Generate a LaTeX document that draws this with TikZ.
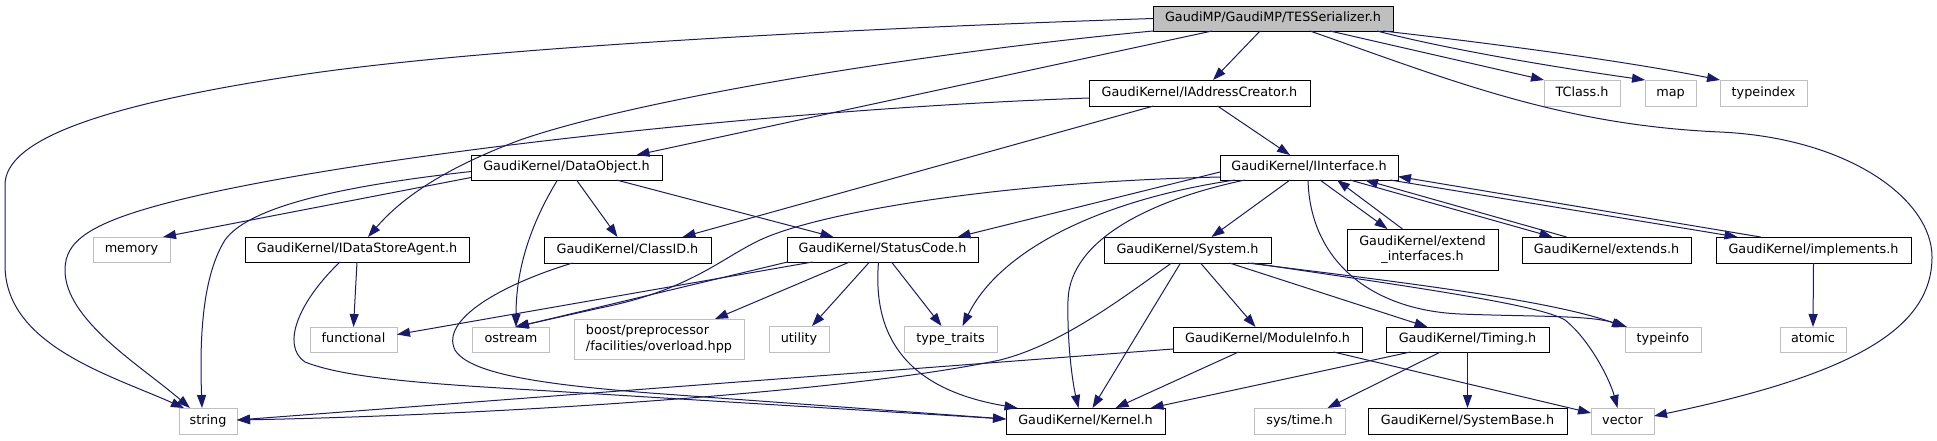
\documentclass[tikz,border=0pt]{standalone}
\usepackage{fontspec}
\setmainfont{DejaVu Sans}
\usetikzlibrary{arrows.meta}
\definecolor{edgec}{HTML}{191970}
\definecolor{greyb}{HTML}{BFBFBF}
\begin{document}
\begin{tikzpicture}[x=1pt,y=-1pt,
  nd/.style={draw=black, line width=1pt, inner sep=0pt, outer sep=0pt, fill=white,
    font=\fontsize{12.8}{15.5}\selectfont, text height=9.3pt, text depth=2.6pt},
  ext/.style={nd, draw=greyb},
  root/.style={nd, fill=greyb},
  twoline/.style={draw=black, line width=1pt, inner sep=0pt, outer sep=0pt, fill=white,
    font=\fontsize{12.8}{15.5}\selectfont},
  lnk/.style={draw=edgec, line width=1pt, -{Triangle[length=13pt,width=9pt]}}]
\fill[white] (0,0) rectangle (1937,440);
\useasboundingbox (0,0) rectangle (1937,440);
% nodes
\node[root, minimum width=240pt, minimum height=25pt] (tes) at (1273,18.5) {GaudiMP/GaudiMP/TESSerializer.h};
\node[nd, minimum width=221pt, minimum height=26pt] (iac) at (1199.5,93) {GaudiKernel/IAddressCreator.h};
\node[ext, minimum width=76pt, minimum height=26pt] (tclass) at (1582,93) {TClass.h};
\node[ext, minimum width=51pt, minimum height=26pt] (map) at (1670.5,93) {map};
\node[ext, minimum width=87pt, minimum height=26pt] (typeindex) at (1763.5,93) {typeindex};
\node[nd, minimum width=191pt, minimum height=25pt] (dataobj) at (566.5,167.5) {GaudiKernel/DataObject.h};
\node[nd, minimum width=178pt, minimum height=25pt] (iinterface) at (1309,167.5) {GaudiKernel/IInterface.h};
\node[ext, minimum width=77pt, minimum height=25pt] (memory) at (131.5,249.5) {memory};
\node[nd, minimum width=224pt, minimum height=25pt] (idsa) at (357,249.5) {GaudiKernel/IDataStoreAgent.h};
\node[nd, minimum width=167pt, minimum height=26pt] (classid) at (627.5,250) {GaudiKernel/ClassID.h};
\node[nd, minimum width=191pt, minimum height=25pt] (statuscode) at (882.5,249.5) {GaudiKernel/StatusCode.h};
\node[nd, minimum width=167pt, minimum height=26pt] (system) at (1187.5,250) {GaudiKernel/System.h};
\node[twoline, align=center, minimum width=151pt, minimum height=41pt] (extendif) at (1422.5,249.5) {GaudiKernel/extend\\\_interfaces.h};
\node[nd, minimum width=169pt, minimum height=26pt] (extends) at (1606.5,250) {GaudiKernel/extends.h};
\node[nd, minimum width=195pt, minimum height=26pt] (implements) at (1813.5,250) {GaudiKernel/implements.h};
\node[ext, minimum width=87pt, minimum height=25pt] (functional) at (353.5,339.5) {functional};
\node[ext, minimum width=77pt, minimum height=25pt] (ostream) at (511,339.5) {ostream};
\node[twoline, draw=greyb, align=left, minimum width=170pt, minimum height=40pt] (boost) at (659,339) {boost/preprocessor\\/facilities/overload.hpp};
\node[ext, minimum width=60pt, minimum height=26pt] (utility) at (799,339) {utility};
\node[ext, minimum width=93pt, minimum height=26pt] (typetraits) at (950.5,339) {type\_traits};
\node[nd, minimum width=189pt, minimum height=25pt] (moduleinfo) at (1267.5,339.5) {GaudiKernel/ModuleInfo.h};
\node[nd, minimum width=163pt, minimum height=25pt] (timing) at (1467.5,339.5) {GaudiKernel/Timing.h};
\node[ext, minimum width=76pt, minimum height=25pt] (typeinfo) at (1663,339.5) {typeinfo};
\node[ext, minimum width=66pt, minimum height=25pt] (atomic) at (1813,339.5) {atomic};
\node[ext, minimum width=58pt, minimum height=26pt] (string) at (208,421) {string};
\node[nd, minimum width=159pt, minimum height=26pt] (kernel) at (1085.5,421) {GaudiKernel/Kernel.h};
\node[ext, minimum width=91pt, minimum height=26pt] (systime) at (1299.5,421) {sys/time.h};
\node[nd, minimum width=199pt, minimum height=26pt] (systembase) at (1467.5,421) {GaudiKernel/SystemBase.h};
\node[ext, minimum width=63pt, minimum height=26pt] (vector) at (1622.5,421) {vector};
% TES edges
\draw[lnk] (tes.west) .. controls (900,27) and (500,45) .. (300,75) .. controls (100,105) and (5,140) .. (5,185) -- (5,265) .. controls (5,345) and (110,375) .. ([xshift=-24pt]string.north);
\draw[lnk] (tes.south west) .. controls (950,50) and (650,95) .. (520,140) .. controls (440,170) and (400,200) .. ([xshift=11pt]idsa.north);
\draw[lnk] ([xshift=-61pt]tes.south) -- ([xshift=70pt]dataobj.north);
\draw[lnk] ([xshift=-13pt]tes.south) -- ([xshift=13.5pt]iac.north);
\draw[lnk] ([xshift=57pt]tes.south) -- (tclass.north west);
\draw[lnk] ([xshift=104pt]tes.south) .. controls (1450,50) and (1560,68) .. (map.north west);
\draw[lnk] ([xshift=110pt]tes.south) .. controls (1480,42) and (1620,60) .. (typeindex.north west);
\draw[lnk] ([xshift=37pt]tes.south) .. controls (1450,80) and (1560,125) .. (1720,132) .. controls (1850,138) and (1932,200) .. (1932,257) .. controls (1932,330) and (1850,375) .. ([yshift=5pt]vector.east);
% IAddressCreator edges
\draw[lnk] ([yshift=-5pt]iac.west) .. controls (800,108) and (400,150) .. (200,195) .. controls (90,220) and (65,240) .. (65,270) .. controls (65,320) and (140,365) .. ([xshift=-18pt]string.north);
\draw[lnk] ([xshift=-46pt]iac.south) -- ([xshift=55pt]classid.north);
\draw[lnk] ([xshift=18pt]iac.south) -- ([xshift=-19pt]iinterface.north);
% DataObject edges
\draw[lnk] ([yshift=-10pt]dataobj.west) -- ([xshift=31.5pt]memory.north);
\draw[lnk] ([yshift=-4pt]dataobj.west) .. controls (350,185) and (250,205) .. (225,240) .. controls (200,280) and (200,350) .. ([xshift=-6pt]string.north);
\draw[lnk] ([xshift=-9pt]dataobj.south) .. controls (530,225) and (516,270) .. ([xshift=5pt]ostream.north);
\draw[lnk] ([xshift=10pt]dataobj.south) -- ([xshift=-10pt]classid.north);
\draw[lnk] ([xshift=50pt]dataobj.south) -- ([xshift=-49pt]statuscode.north);
% IDataStoreAgent edges
\draw[lnk] (idsa.south) -- (functional.north);
\draw[lnk] ([xshift=-17pt]idsa.south) .. controls (300,300) and (280,345) .. (305,362) .. controls (350,380) and (450,385) .. (550,391) -- ([yshift=2pt]kernel.west);
% ClassID edge
\draw[lnk] ([xshift=-55pt]classid.south) .. controls (500,285) and (440,320) .. (455,350) .. controls (470,375) and (550,385) .. (650,393) -- ([yshift=2pt]kernel.west);
% StatusCode edges
\draw[lnk] ([xshift=-95pt]statuscode.south) -- ([xshift=5pt]ostream.north);
\draw[lnk] ([xshift=-70pt]statuscode.south) -- ([yshift=5pt]functional.east);
\draw[lnk] ([xshift=-33pt]statuscode.south) -- ([xshift=56pt]boost.north);
\draw[lnk] ([xshift=-13pt]statuscode.south) -- ([xshift=13pt]utility.north);
\draw[lnk] ([xshift=9pt]statuscode.south) -- ([xshift=-9pt]typetraits.north);
\draw[lnk] ([xshift=-4pt]statuscode.south) .. controls (872,340) and (910,390) .. ([xshift=-68pt]kernel.north);
% IInterface edges
\draw[lnk] ([yshift=-4.5pt]iinterface.west) -- ([xshift=75pt]statuscode.north);
\draw[lnk] ([yshift=-9.5pt]iinterface.west) .. controls (1000,182) and (820,212) .. (760,240) .. controls (720,259) and (690,290) .. (600,308) -- ([xshift=4pt]ostream.north);
\draw[lnk] ([xshift=-74pt]iinterface.south) .. controls (1100,200) and (1000,250) .. ([xshift=12pt]typetraits.north);
\draw[lnk] ([xshift=-64pt]iinterface.south) .. controls (1150,200) and (1070,240) .. (1068,300) .. controls (1067,340) and (1072,380) .. ([xshift=-7pt]kernel.north);
\draw[lnk] ([xshift=-19pt]iinterface.south) -- ([xshift=24pt]system.north);
\draw[lnk] ([xshift=-1pt]iinterface.south) .. controls (1310,260) and (1370,310) .. (1460,314) .. controls (1540,317) and (1590,315) .. ([xshift=-36pt]typeinfo.north);
\draw[lnk] ([xshift=11pt]iinterface.south) -- ([xshift=-35pt]extendif.north);
\draw[lnk] ([xshift=41pt]iinterface.south) -- ([xshift=-54pt]extends.north);
\draw[lnk] ([xshift=81pt]iinterface.south) -- ([xshift=-76pt]implements.north);
\draw[lnk] ([xshift=-20pt]extendif.north) -- ([xshift=28pt]iinterface.south);
\draw[lnk] ([xshift=-40pt]extends.north) -- ([xshift=56pt]iinterface.south);
\draw[lnk] ([xshift=-53pt]implements.north) -- ([yshift=-9pt]iinterface.east);
% System edges
\draw[lnk] ([xshift=-16pt]system.south) .. controls (1120,300) and (1060,345) .. (1000,360) .. controls (850,392) and (500,415) .. ([yshift=1pt]string.east);
\draw[lnk] ([xshift=-7pt]system.south) -- ([xshift=7pt]kernel.north);
\draw[lnk] ([xshift=13pt]system.south) -- ([xshift=-12pt]moduleinfo.north);
\draw[lnk] ([xshift=42pt]system.south) -- ([xshift=-40pt]timing.north);
\draw[lnk] ([xshift=60pt]system.south) .. controls (1400,282) and (1550,300) .. ([xshift=-38pt]typeinfo.north);
\draw[lnk] ([xshift=64pt]system.south) .. controls (1420,288) and (1540,305) .. (1565,320) .. controls (1590,340) and (1610,380) .. ([xshift=-5pt]vector.north);
% ModuleInfo edges
\draw[lnk] ([yshift=-9.5pt]moduleinfo.west) -- ([yshift=1pt]string.east);
\draw[lnk] ([xshift=-29pt]moduleinfo.south) -- ([xshift=30pt]kernel.north);
\draw[lnk] ([xshift=66pt]moduleinfo.south) -- ([yshift=8pt]vector.west);
% Timing edges
\draw[lnk] ([xshift=-57pt]timing.south) -- ([xshift=65pt]kernel.north);
\draw[lnk] ([xshift=-27pt]timing.south) -- ([xshift=28pt]systime.north);
\draw[lnk] (timing.south) -- (systembase.north);
% implements
\draw[lnk] (implements.south) -- (atomic.north);
\end{tikzpicture}
\end{document}
